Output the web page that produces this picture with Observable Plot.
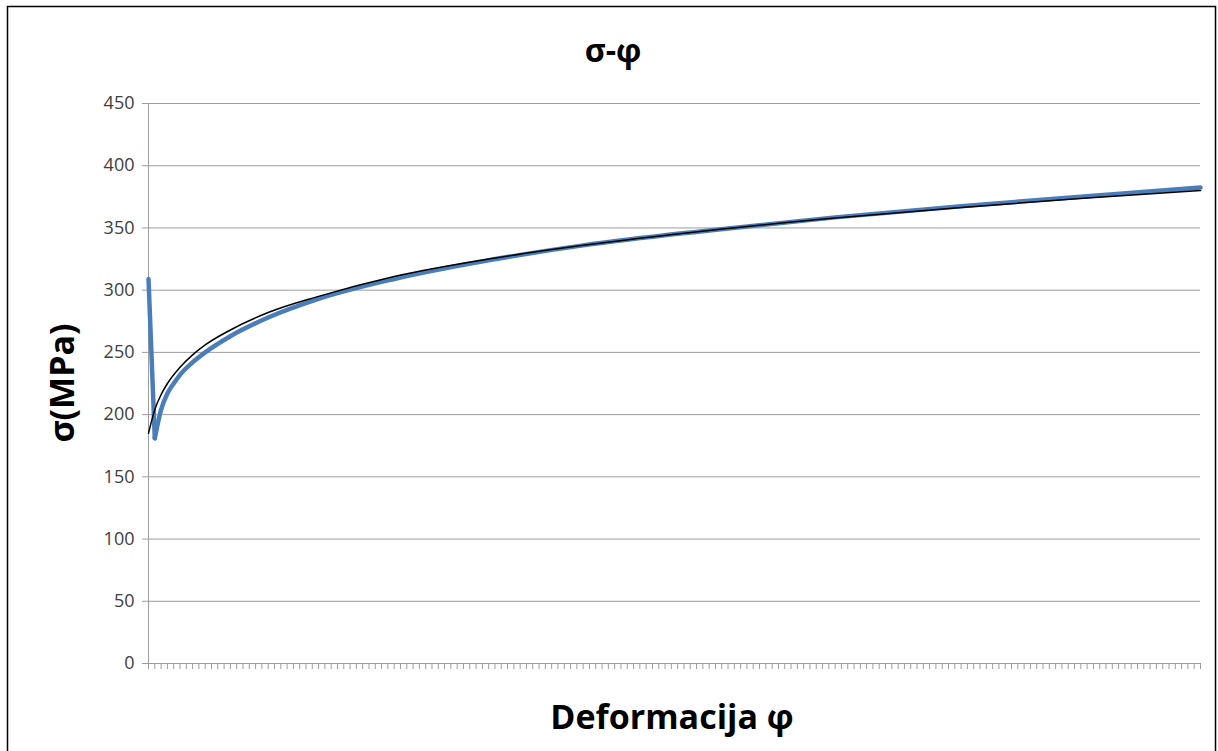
<!DOCTYPE html>
<html><head><meta charset="utf-8">
<script src="https://cdn.jsdelivr.net/npm/d3@7"></script>
<script src="https://cdn.jsdelivr.net/npm/@observablehq/plot@0.6"></script>
<style>body{margin:0;background:#fff;}</style>
</head><body><div id="chart"></div>
<script>
// ---- data ----
const categoryCount = 168;               // number of categories on the x axis
const yTicks = [0, 50, 100, 150, 200, 250, 300, 350, 400, 450];
const blueIdx = [1, 2, 3, 4, 5, 6, 8, 10, 14, 20, 28, 40, 55, 70, 90, 110, 130, 150, 168];
const blueVal = [309, 181, 204, 217, 225, 232, 242, 250, 263, 278, 293, 309, 324, 336, 348, 358.5, 367.5, 375.5, 382.5];
const trendIdx = [1, 2, 3, 4, 6, 8, 10, 14, 20, 28, 40, 55, 70, 90, 110, 130, 150, 168];
const trendVal = [185, 204, 216, 225, 238, 248, 256, 268, 282, 295, 311, 325, 336, 348, 358, 366.5, 374, 380];
const titleText = "σ-φ";
const xTitle = "Deformacija φ";
const yTitle = "σ(MPa)";

const blueData = blueIdx.map((c, i) => ({c, v: blueVal[i]}));
const trendData = trendIdx.map((c, i) => ({c, v: trendVal[i]}));
const categories = d3.range(1, categoryCount + 1);

const W = 1218, H = 751;
const font = "'Open Sans', 'DejaVu Sans', sans-serif";
const gridColor = "#9d9d9d";

const plot = Plot.plot({
  width: W, height: H,
  marginLeft: 148, marginRight: 18, marginTop: 103, marginBottom: 88,
  style: {fontFamily: font, background: "#fff"},
  x: {type: "linear", domain: [1, categoryCount], label: null},
  y: {domain: [0, 450], label: null},
  marks: [
    Plot.gridY(yTicks, {stroke: gridColor, strokeOpacity: 1, strokeWidth: 1}),
    Plot.ruleX([1], {stroke: gridColor, strokeWidth: 1}),
    Plot.axisY({ticks: yTicks, tickSize: 6, tickPadding: 8, fontSize: 18, stroke: gridColor, fill: "#404040", label: null}),
    Plot.axisX({ticks: categories, tickSize: 6, stroke: gridColor, fill: "none", label: null}),
    Plot.line([blueData[0], blueData[1]], {x: "c", y: "v", stroke: "#4a7ebb", strokeWidth: 4.5, strokeLinecap: "round"}),
    Plot.line(blueData.slice(1), {x: "c", y: "v", curve: "monotone-x", stroke: "#4a7ebb", strokeWidth: 4.5, strokeLinecap: "round", strokeLinejoin: "round"}),
    Plot.line(trendData, {x: "c", y: "v", curve: "monotone-x", stroke: "#000", strokeWidth: 1.5})
  ]
});

const svg = d3.select(plot);
svg.append("rect").attr("x", 7.5).attr("y", 6.5).attr("width", 1208).attr("height", 800)
  .attr("fill", "none").attr("stroke", "#000").attr("stroke-width", 1.5);
svg.append("text").attr("x", 613).attr("y", 62).attr("text-anchor", "middle")
  .attr("font-family", font).attr("font-weight", "bold").attr("font-size", 32).attr("fill", "#000").text(titleText);
svg.append("text").attr("x", 672).attr("y", 729).attr("text-anchor", "middle")
  .attr("font-family", font).attr("font-weight", "bold").attr("font-size", 34).attr("fill", "#000").text(xTitle);
svg.append("text").attr("transform", "translate(74,383) rotate(-90)").attr("text-anchor", "middle")
  .attr("font-family", font).attr("font-weight", "bold").attr("font-size", 34).attr("fill", "#000").text(yTitle);

document.getElementById("chart").appendChild(plot);
</script>
</body></html>
